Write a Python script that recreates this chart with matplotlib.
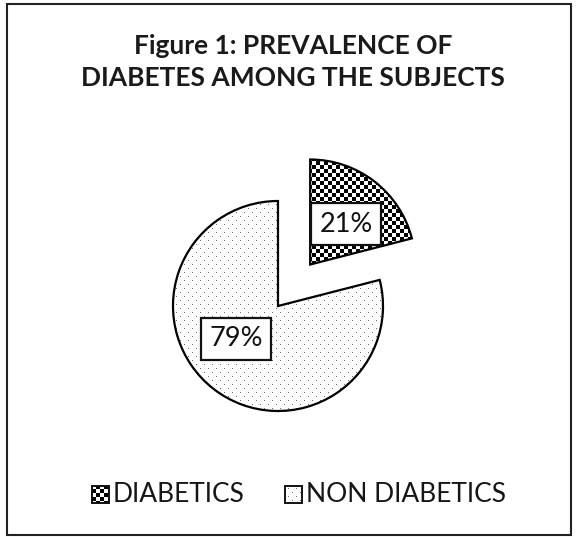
import numpy as np
import matplotlib
matplotlib.use("Agg")
import matplotlib.pyplot as plt
from matplotlib.patches import Rectangle

plt.rcParams['font.family'] = ['Lato', 'DejaVu Sans']

# data
categories = ["DIABETICS", "NON DIABETICS"]
shares = [21, 79]
title = "Figure 1: PREVALENCE OF\nDIABETES AMONG THE SUBJECTS"

W, H = 577, 537
CENTER = (278, H - 306)
RADIUS = 105


def checker_img(cell=4):
    yy, xx = np.indices((H, W))
    on = ((xx // cell) + (yy // cell)) % 2 == 0
    img = np.ones((H, W, 4))
    img[on, :3] = 0.0
    return img


def dots_img(step=8):
    yy, xx = np.indices((H, W))
    on = ((xx % step == 0) & (yy % step == 0)) | \
         ((xx % step == step // 2) & (yy % step == step // 2))
    img = np.zeros((H, W, 4))
    img[..., :3] = 0.35
    img[on, 3] = 0.9
    return img


def fill_pattern(ax, patch, img):
    im = ax.imshow(img, extent=(0, W, 0, H), origin='lower',
                   interpolation='nearest', zorder=1, aspect='auto')
    im.set_clip_path(patch)


fig = plt.figure(figsize=(W / 100, H / 100), dpi=100)
ax = fig.add_axes([0, 0, 1, 1])

patterns = [checker_img(), dots_img()]

# explode is applied in data units by matplotlib, so scale by the radius
wedges, texts, autotexts = ax.pie(
    shares, explode=[0.5 * RADIUS, 0], startangle=90, counterclock=False,
    center=CENTER, radius=RADIUS, frame=True,
    autopct='%d%%', pctdistance=0.5,
    wedgeprops=dict(facecolor='none', edgecolor='black', linewidth=1.6, zorder=2),
    textprops=dict(fontsize=19.5, color='#111111', zorder=4),
)
ax.set_xlim(0, W)
ax.set_ylim(0, H)
ax.axis('off')

for w, img in zip(wedges, patterns):
    fill_pattern(ax, w, img)

# label boxes
label_offsets = [(68, 82), (-42, -33)]
for t, (dx, dy) in zip(autotexts, label_offsets):
    t.set_position((CENTER[0] + dx, CENTER[1] + dy))
    t.set_ha('center')
    t.set_va('center')
    t.set_bbox(dict(boxstyle='square,pad=0.3', facecolor='white',
                    edgecolor='#111111', linewidth=1.6))

# title
fig.text(293 / W, 1 - 62 / H, title, ha='center', va='center',
         fontsize=19, fontweight='bold', color='#1a1a1a', linespacing=1.45)

# legend built by hand so the fill patterns show in the keys
key_x = [92, 285]
for cat, img, kx in zip(categories, patterns, key_x):
    fill_pattern(ax, Rectangle((kx, H - 503), 17, 17, transform=ax.transData), img)
    ax.add_patch(Rectangle((kx, H - 503), 17, 17, facecolor='none',
                           edgecolor='#111111', linewidth=1.4, zorder=3))
    ax.text(kx + 21, H - 494, cat, ha='left', va='center',
            fontsize=19, color='#161616')

# outer frame
ax.add_patch(Rectangle((7, 2), 564, 531, facecolor='none',
                       edgecolor='#222222', linewidth=1.5, zorder=5))

fig.savefig("out.png", dpi=100)
